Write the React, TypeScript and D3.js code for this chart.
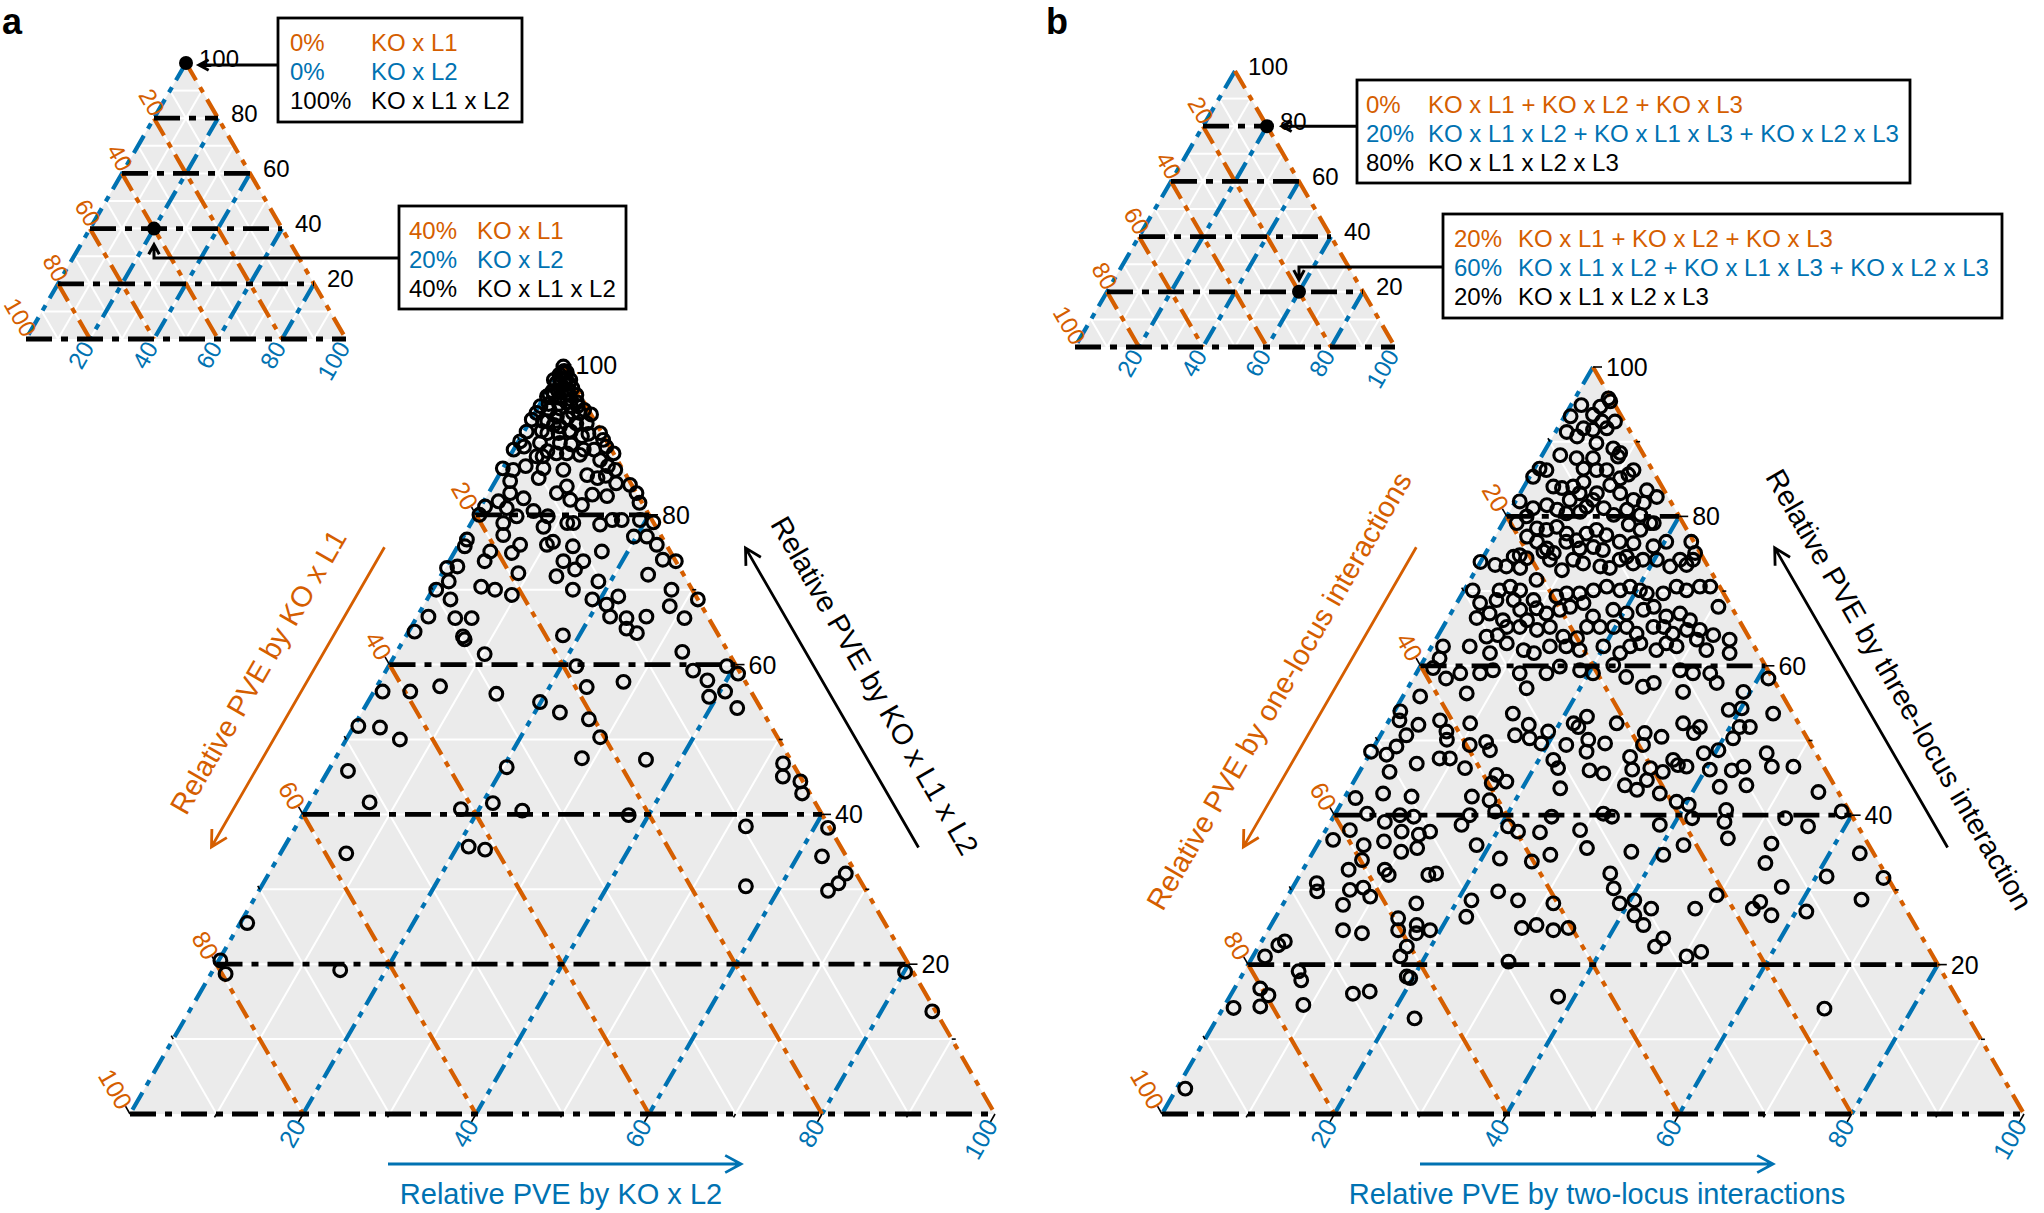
import * as d3 from "d3";

const ORANGE = "#D55E00";
const BLUE = "#0072B2";
const PANEL_BG = "#EBEBEB";
const FONT = "'Liberation Sans', Arial, Helvetica, sans-serif";

// axis values
const tickLabels = [20, 40, 60, 80, 100];
const isoLevels = [0, 20, 40, 60, 80];
const gridLevels = [10, 20, 30, 40, 50, 60, 70, 80, 90];
const tickMarks = [10, 20, 30, 40, 50, 60, 70, 80, 90, 100];

// axis titles: [left (orange), bottom (blue), right (black)]
const titlesA = ["Relative PVE by KO x L1", "Relative PVE by KO x L2", "Relative PVE by KO x L1 x L2"];
const titlesB = [
  "Relative PVE by one-locus interactions",
  "Relative PVE by two-locus interactions",
  "Relative PVE by three-locus interaction",
];

// legend boxes
const legendLabelsA = ["KO x L1", "KO x L2", "KO x L1 x L2"];
const legendLabelsB = [
  "KO x L1 + KO x L2 + KO x L3",
  "KO x L1 x L2 + KO x L1 x L3 + KO x L2 x L3",
  "KO x L1 x L2 x L3",
];
const legendValuesA = [
  [0, 0, 100],
  [40, 20, 40],
];
const legendValuesB = [
  [0, 20, 80],
  [20, 60, 20],
];

// panel a: [KO x L1, KO x L2, KO x L1 x L2] in %
const pveA: number[][] = [
  [0, 0.2, 99.8], [0, 1, 99], [1, 0.3, 98.7], [0.1, 1.9, 98], [1.9, 0.5, 97.6], [1, 1.6, 97.4],
  [0.4, 2.7, 96.9], [2.9, 0.6, 96.5], [1.4, 2.4, 96.2], [0.4, 3.6, 96], [3.9, 0.3, 95.8], [2.5, 1.9, 95.6],
  [1.3, 3.3, 95.4], [5.3, 0.2, 94.5], [4.5, 1.5, 94], [3.2, 2.6, 94.2], [1.8, 3.7, 94.5], [1.2, 5.2, 93.6],
  [0, 6.6, 93.4], [6.2, 0.2, 93.6], [4.1, 2.8, 93.1], [3, 4.1, 92.9], [5.5, 2, 92.5], [7.2, 0.1, 92.7],
  [2.3, 5.5, 92.2], [1.1, 6.7, 92.2], [4.4, 3.8, 91.8], [8.6, 0.3, 91.1], [6.3, 2.8, 90.9], [5, 4.1, 90.9],
  [3.5, 5.4, 91.1], [0.2, 8.9, 90.9], [0.3, 9.7, 90], [10, 0.2, 89.8], [7.8, 2.6, 89.6], [5.5, 4.9, 89.6],
  [4.3, 6.3, 89.4], [3.2, 8.1, 88.7], [2, 9.3, 88.7], [0.4, 10.5, 89.1], [0, 11.8, 88.2], [11.3, 0, 88.7],
  [9.9, 1, 89.1], [9.1, 3.1, 87.8], [6.6, 5.2, 88.2], [2, 10.7, 87.3], [13.8, 0, 86.2], [12.7, 1.3, 86],
  [11, 2.5, 86.5], [9.1, 4.7, 86.2], [6.9, 7.1, 86], [4.5, 10.2, 85.3], [3.5, 11.6, 84.9], [0.9, 13.1, 86],
  [13.8, 1.7, 84.5], [10.3, 4.8, 84.9], [7.6, 8.6, 83.8], [9.2, 7.9, 82.9], [8.1, 9.9, 82], [7.1, 11.6, 81.3],
  [5.2, 12.1, 82.7], [3.6, 13.9, 82.5], [0.2, 15.8, 84], [0, 17.1, 82.9], [0.3, 18.1, 81.6], [1.7, 14.1, 84.2],
  [13.4, 4.4, 82.2], [14.6, 2.5, 82.9], [16.5, 1.7, 81.8], [18.4, 0.5, 81.1], [19.6, 0.4, 80], [16, 3.1, 80.9],
  [15.4, 4.8, 79.8], [13.1, 6.4, 80.5], [11.8, 8.4, 79.8], [13, 8.6, 78.4], [10, 11.1, 78.9], [9.3, 11.8, 78.9],
  [6.3, 15, 78.7], [4.6, 16.1, 79.3], [3.5, 17.2, 79.3], [1.4, 19.3, 79.3], [0, 21, 79], [17.4, 3.7, 78.9],
  [18.2, 4.5, 77.3], [16.9, 7.1, 76], [18.4, 6.7, 74.9], [20.8, 4.1, 75.1], [22.1, 4.1, 73.8], [22.7, 0.6, 76.7],
  [23.4, 0.8, 75.8], [13.8, 10.2, 76], [12.9, 10.7, 76.4], [10.9, 13.3, 75.8], [7.9, 17, 75.1], [3.2, 19.7, 77.1],
  [1.7, 21.2, 77.1], [1.1, 22.9, 76], [1.4, 24.6, 74], [0, 26.2, 73.8], [13, 13.2, 73.8], [10.7, 15.5, 73.8],
  [14.8, 13.4, 71.8], [12.2, 15.1, 72.7], [19, 8.8, 72.2], [25.6, 1.3, 73.1], [26.9, 0.2, 72.9], [27.6, 1.3, 71.1],
  [29.6, 0.4, 70], [28.6, 2.7, 68.7], [24.2, 5.4, 70.4], [22.8, 7.2, 70], [21.2, 9.5, 69.3], [13.8, 16.2, 70],
  [10.3, 18.6, 71.1], [4.1, 23.9, 72], [2.4, 27.6, 70], [12.2, 19.1, 68.7], [10.9, 21.1, 68], [9, 21.9, 69.1],
  [3.7, 28.5, 67.8], [0, 31.3, 68.7], [32.3, 1.3, 66.4], [29.3, 4.5, 66.2], [27.4, 6.4, 66.2], [11.3, 22.3, 66.4],
  [9.5, 24.3, 66.2], [7.1, 26.5, 66.4], [2.8, 31, 66.2],
  [0.5, 0.5, 99], [1.5, 1, 97.5], [0.5, 2, 97.5], [2, 0, 98], [3, 1, 96], [2, 3, 95], [1, 4.5, 94.5],
  [3.5, 0.5, 96], [0.5, 5.5, 94], [5, 3, 92], [2.5, 7, 90.5], [6, 1.5, 92.5], [7.5, 4, 88.5], [4, 8, 88],
  [1.5, 12, 86.5], [0.2, 0.6, 99.2], [1.2, 0.6, 98.2], [0.6, 1.4, 98], [2.2, 1.2, 96.6], [1.2, 2.8, 96],
  [3, 2.2, 94.8], [2, 4.4, 93.6], [4.2, 1, 94.8], [0.8, 4.2, 95], [3.6, 5.2, 91.2], [6.8, 2, 91.2],
  [1.6, 7.6, 90.8], [5.4, 6.4, 88.2], [8.4, 3.8, 87.8], [2.4, 12.4, 85.2],
  [5.3, 33, 61.7], [1.1, 39.1, 59.8], [0.3, 40.9, 58.8], [5.3, 35.5, 59.2], [4.3, 37.8, 57.9], [5.2, 39.1, 55.7],
  [3, 40.6, 56.4], [2.7, 43.1, 54.2], [1.1, 52.1, 46.8], [2, 53, 45.1], [0.3, 55.3, 44.4], [0.9, 56.3, 42.8],
  [9.6, 52, 38.4], [0.2, 61.6, 38.2], [2.8, 62.8, 34.4], [1.2, 66.7, 32.1], [2.7, 66.5, 30.8], [4.4, 65.8, 29.8],
  [13.6, 56, 30.4], [0.9, 80.1, 19], [0.4, 85.9, 13.7], [24, 28.5, 47.5], [16.7, 36, 47.3], [22.4, 37.7, 39.9],
  [34.9, 0.7, 64.4], [29.6, 6.6, 63.7], [29.6, 7, 63.3], [28.3, 10.3, 61.4], [18, 18.1, 63.9], [10.2, 25, 64.8],
  [9.3, 26.5, 64.2], [18.5, 21.7, 59.8], [14.1, 28.2, 57.7], [18.7, 24.3, 57], [25.1, 19.9, 55], [23.5, 22.9, 53.6],
  [20.6, 26.7, 52.7], [20.5, 29.2, 50.3], [29.6, 14.3, 56.1], [35.6, 7.3, 57.1], [39.4, 4.2, 56.4], [42.6, 1, 56.4],
  [47.7, 0.5, 51.8], [45.3, 3.1, 51.6], [43.8, 6.2, 50], [33.3, 20.4, 46.3], [51.9, 2.3, 45.8], [51.5, 6.9, 41.6],
  [41.4, 17.9, 40.7], [37.3, 21.2, 41.5], [34.4, 25.1, 40.5], [57.6, 7.6, 34.8], [43, 21.3, 35.7], [41.3, 23.4, 35.3],
  [73.7, 0.8, 25.5], [79.3, 0.2, 20.5], [79.6, 1.7, 18.7], [66.1, 14.7, 19.2],
];

// panel b: [one-locus, two-locus, three-locus] in %
const pveB: number[][] = [
  [0.3, 3.9, 95.8], [0.3, 4.3, 95.4], [3.9, 1.2, 94.9], [1.8, 3.5, 94.7], [5.9, 0.7, 93.4], [3.2, 3.2, 93.6],
  [2.6, 4.7, 92.7], [1.1, 6.2, 92.7], [5.2, 3, 91.8], [4.2, 4.2, 91.6], [2.5, 5.7, 91.8], [7.4, 1.3, 91.3],
  [6.5, 2.8, 90.7], [4.7, 5.5, 89.8], [3.1, 7.8, 89.1], [2.6, 8.9, 88.5], [9.7, 2.1, 88.2], [8, 4.2, 87.8],
  [6.1, 6.1, 87.8], [3.1, 8.9, 88], [7.9, 5.7, 86.4], [6.5, 7.3, 86.2], [5.3, 8.5, 86.2], [2.2, 11.6, 86.2],
  [13, 0.6, 86.4], [12.3, 1.5, 86.2], [14.3, 0.4, 85.3], [12.6, 3.4, 84], [11.7, 4.5, 83.8], [10.3, 5.7, 84],
  [8.8, 6.6, 84.6], [8, 8.9, 83.1], [5.9, 9.9, 84.2], [4.3, 10.6, 85.1], [3.1, 11.3, 85.6], [10, 6.9, 83.1],
  [11.6, 6.2, 82.2], [8.9, 8.9, 82.2], [5.3, 11.6, 83.1], [2, 14.5, 83.5], [1.3, 16.1, 82.6], [4.2, 13.6, 82.2],
  [3.2, 15, 81.8], [17.5, 0.5, 82], [16.4, 2.5, 81.1], [14.6, 3.9, 81.5], [13.7, 5.4, 80.9], [12.9, 6.7, 80.4],
  [11.2, 8.2, 80.6], [10.1, 8.6, 81.3], [8.2, 10.7, 81.1], [7.5, 12.3, 80.2], [5.6, 13.5, 80.9], [4.4, 15.4, 80.2],
  [3.4, 17.5, 79.1], [19.3, 1.6, 79.1], [17.7, 2.3, 80], [17.3, 4.3, 78.4], [16.3, 5.5, 78.2], [14.9, 6.5, 78.6],
  [14.2, 8.1, 77.7], [13.5, 9.7, 76.8], [11.9, 10.4, 77.7], [10.5, 11.3, 78.2], [9.7, 12.8, 77.5], [6.4, 14.7, 78.9],
  [5.4, 16.4, 78.2], [3.8, 17.1, 79.1], [19, 3.7, 77.3], [18.2, 5.2, 76.6], [17.5, 6.8, 75.7], [17, 7.9, 75.1],
  [14.8, 8.6, 76.6], [13.7, 10.6, 75.7], [12, 12.1, 75.9], [11.1, 13.4, 75.5], [8.6, 14.8, 76.6], [7.1, 16.5, 76.4],
  [5, 19, 76], [3.2, 20.2, 76.6], [0.3, 23.1, 76.6], [0.6, 24.3, 75.1], [26.1, 0, 73.9], [24.6, 1.9, 73.5],
  [23.4, 3.3, 73.3], [21.9, 5, 73.1], [21.9, 3.5, 74.6], [21.1, 4.1, 74.8], [20.5, 5.1, 74.4], [18.1, 6.6, 75.3],
  [17.9, 7.9, 74.2], [17.2, 10, 72.8], [15.2, 10.6, 74.2], [14.3, 12, 73.7], [12.5, 14.2, 73.3], [11.5, 15.4, 73.1],
  [9.8, 16, 74.2], [8.8, 16.6, 74.6], [8.5, 17.8, 73.7], [7.1, 18.7, 74.2], [5.5, 20.3, 74.2], [4.4, 22.3, 73.3],
  [2.8, 23, 74.2], [2.4, 24.1, 73.5], [1.3, 24.5, 74.2], [20.8, 7.7, 71.5], [28.9, 1, 70.1], [25.8, 4.1, 70.1],
  [24.3, 5.1, 70.6], [23.4, 6.5, 70.1], [26.8, 4.4, 68.8], [24.8, 6.4, 68.8], [22.5, 8.7, 68.8], [19.6, 11.1, 69.3],
  [18.2, 12.1, 69.7], [16.7, 13.6, 69.7], [14.9, 15, 70.1], [13.1, 16.3, 70.6], [11.8, 18.1, 70.1], [10.4, 19, 70.6],
  [9.5, 20.4, 70.1], [8.9, 21.4, 69.7], [7, 23.3, 69.7], [5, 24.4, 70.6], [4.1, 25.8, 70.1], [2.3, 27.1, 70.6],
  [1.1, 28.3, 70.6], [28.9, 2.7, 68.4], [28.5, 4.5, 67], [30.3, 3.3, 66.4], [27.4, 6.5, 66.1], [24.7, 7.8, 67.5],
  [24.6, 9.3, 66.1], [22.7, 9.6, 67.7], [21.9, 11.1, 67], [20.1, 12.4, 67.5], [18.7, 13.4, 67.9], [16.9, 14.7, 68.4],
  [16.7, 16.7, 66.6], [13.9, 18.6, 67.5], [12.6, 20.4, 67], [10.4, 22.1, 67.5], [9, 23.1, 67.9], [8.2, 25.2, 66.6],
  [6.4, 26.6, 67], [5.7, 28.2, 66.1], [1.5, 30.6, 67.9], [30.4, 5.7, 63.9], [29, 6.9, 64.1], [27.4, 7.4, 65.2],
  [25.9, 8.9, 65.2], [24.1, 11.1, 64.8], [22.4, 12.4, 65.2], [21.5, 14.6, 63.9], [20, 16.3, 63.7], [18.1, 16.7, 65.2],
  [16.6, 18.2, 65.2], [15, 19.8, 65.2], [13.5, 21.3, 65.2], [12.8, 22.9, 64.3], [10.4, 24.4, 65.2], [9.2, 25.6, 65.2],
  [8.6, 27.1, 64.3], [6.7, 28.5, 64.8], [5.2, 30, 64.8], [4, 31.9, 64.1], [36.1, 1.3, 62.6], [37.3, 1.7, 61],
  [38.7, 1.6, 59.7], [37.9, 3.8, 58.3], [35.9, 5.1, 59], [33, 4.4, 62.6], [31.1, 7.2, 61.7], [28.5, 8.5, 63],
  [27, 10.9, 62.1], [26, 12.3, 61.7], [23.7, 13.7, 62.6], [21.8, 15.6, 62.6], [20.5, 17.4, 62.1], [17.5, 19.9, 62.6],
  [16, 22.3, 61.7], [14.4, 23, 62.6], [13, 24, 63], [11.6, 26.3, 62.1], [10, 27, 63], [9, 28.4, 62.6],
  [6.2, 30.3, 63.5], [5.8, 32.1, 62.1], [2.4, 34.1, 63.5], [3.3, 35, 61.7], [42.1, 2, 55.9], [36.5, 7.2, 56.3],
  [33.6, 7.4, 59], [31.9, 8.7, 59.4], [29, 12, 59], [29.2, 13.8, 57], [25.9, 15.1, 59], [23.9, 16.2, 59.9],
  [21.8, 18.8, 59.4], [20.5, 20.5, 59], [17.6, 22.3, 60.1], [16.9, 24.6, 58.5], [15.6, 27.2, 57.2], [14.1, 28.2, 57.7],
  [10.2, 30.4, 59.4], [8.9, 32.1, 59], [6.9, 34.1, 59], [6.8, 35.5, 57.7], [4.3, 39.2, 56.5], [0.5, 41.2, 58.3],
  [45.4, 0.7, 53.9], [46.1, 1.2, 52.7], [44.2, 3.7, 52.1], [41.4, 5.9, 52.7], [41.4, 7.4, 51.2], [41.9, 8, 50.1],
  [38.1, 9.6, 52.3], [39.6, 11, 49.4], [37.5, 12.7, 49.8], [37.6, 13.7, 48.7], [32.5, 13.9, 53.6], [33.7, 15.6, 50.7],
  [31.4, 16.5, 52.1], [32.2, 17.5, 50.3], [31.2, 19.2, 49.6], [29.6, 19.2, 51.2], [30.9, 21.7, 47.4], [30.9, 22.8, 46.3],
  [32, 24.4, 43.6], [26.1, 21.6, 52.3], [28.4, 22.2, 49.4], [25.8, 22.4, 51.8], [24.1, 22.7, 53.2], [25.5, 24.4, 50.1],
  [26.5, 25, 48.5], [27.4, 26.6, 46], [23.8, 26.6, 49.6], [26, 28.4, 45.6], [21.1, 26.6, 52.3], [21.8, 30.4, 47.8],
  [22.4, 31.5, 46.1], [24.3, 31.7, 44], [23.2, 33.4, 43.4], [21.4, 33.9, 44.7], [20.2, 33.5, 46.3], [16.8, 32.7, 50.5],
  [19, 35.2, 45.8], [20.8, 36.3, 42.9], [19.5, 31.1, 49.4], [18.5, 30.5, 51], [51.5, 0, 48.5], [49.9, 2, 48.1],
  [48.2, 2.6, 49.2], [46.3, 3, 50.7], [47, 6.1, 46.9], [50.7, 3.5, 45.8], [44, 8.4, 47.6], [42.8, 9.6, 47.6],
  [41.7, 12, 46.3], [38.5, 16.1, 45.4], [37.8, 17.7, 44.5], [39.6, 16.1, 44.3], [41, 17, 42], [42.8, 14.7, 42.5],
  [56.4, 1.3, 42.3], [52.9, 4.2, 42.9], [49.8, 7.7, 42.5], [56.1, 3.7, 40.2], [54.6, 6.3, 39.1], [52.4, 7.6, 40],
  [50.9, 9.3, 39.8], [59.2, 2.8, 38], [61.8, 1.5, 36.7], [58.6, 5.4, 36], [56, 7.5, 36.5], [53.3, 8.9, 37.8],
  [54.7, 10.2, 35.1], [51.5, 11.1, 37.4], [50, 12.2, 37.8], [52.6, 11.8, 35.6], [45.9, 15.4, 38.7], [44.3, 15.7, 40],
  [41.1, 18.4, 40.5], [40.6, 20.9, 38.5], [39.8, 22.4, 37.8], [37.3, 25, 37.7], [34.9, 25.3, 39.8], [32.5, 29.5, 38],
  [32.9, 31.5, 35.6], [28.7, 31.1, 40.2], [27.9, 32.3, 39.8], [22.9, 38.4, 38.7], [45.5, 18.5, 36], [43.7, 22.1, 34.2],
  [40.2, 26, 33.8], [37.6, 27.7, 34.7], [28, 36.9, 35.1], [24.5, 40.8, 34.7], [59.8, 6.2, 34], [62, 5.3, 32.7],
  [57.8, 9.5, 32.7], [57.7, 10.3, 32], [53.1, 14.9, 32], [52.1, 15.7, 32.2], [66.6, 2.5, 30.9], [67.1, 3.1, 29.8],
  [63.2, 6.8, 30], [61.5, 8.2, 30.3], [61.3, 9.6, 29.1], [65, 7, 28], [56.4, 15.4, 28.2], [59.5, 14.3, 26.2],
  [60.3, 15.1, 24.6], [57.8, 16.9, 25.3], [56.6, 18.8, 24.6], [58.4, 17.4, 24.2], [66.7, 8.7, 24.6], [64.7, 11.1, 24.2],
  [49.8, 21.6, 28.6], [51.5, 22.1, 26.4], [46.1, 24.1, 29.8], [44.4, 27, 28.6], [40.5, 31.3, 28.2], [45.8, 29.3, 24.9],
  [43.9, 30.8, 25.3], [42.3, 33.1, 24.6], [40.4, 34.7, 24.9], [31.9, 35.9, 32.2], [32.5, 37.3, 30.2], [32.8, 39, 28.2],
  [30.9, 40.5, 28.6], [29.5, 43, 27.5], [31.9, 41.5, 26.6], [31.5, 43.2, 25.3], [30.1, 46.4, 23.5], [31.6, 46, 22.4],
  [77.5, 1.4, 21.1], [75.2, 2.2, 22.6], [74.2, 2.7, 23.1], [74.6, 6.3, 19.1], [74.9, 7.2, 17.9], [80.2, 3, 16.8],
  [79.7, 4.4, 15.9], [81.4, 4.2, 14.4], [84.6, 1.2, 14.2], [76.3, 9.1, 14.6], [69.8, 14.1, 16.1], [67.7, 15.9, 16.4],
  [60.4, 17.2, 22.4], [61.8, 17.1, 21.1], [62.4, 19.2, 18.4], [62.1, 19.7, 18.2], [64.3, 22.9, 12.8], [49.6, 30, 20.4],
  [46.2, 38.1, 15.7], [95.6, 1, 3.4],
  [11.3, 32.2, 56.5], [7.2, 38.7, 54.1], [5.6, 40.1, 54.3], [2.3, 44.1, 53.6], [13.4, 34.3, 52.3], [11.7, 36.5, 51.8],
  [12.8, 36.2, 51], [7.1, 41.1, 51.8], [5.9, 42.3, 51.8], [8.6, 41.1, 50.3], [11.1, 40.2, 48.7], [13, 38.7, 48.3],
  [5.7, 46, 48.3], [6, 47.5, 46.5], [3.5, 50, 46.5], [17, 35.6, 47.4], [16.8, 36.5, 46.7], [15.9, 37.6, 46.5],
  [13.4, 40.5, 46.1], [10.9, 43.1, 46], [9.3, 44.2, 46.5], [13.4, 42.8, 43.8], [10.2, 45.8, 44], [2.3, 54.6, 43.1],
  [19.4, 38.8, 41.8], [18.2, 40.4, 41.4], [18.7, 41.7, 39.6], [14.2, 45.1, 40.7], [15.2, 45.7, 39.1], [7.9, 52.5, 39.6],
  [5.8, 55.7, 38.5], [0.9, 58.6, 40.5], [15.9, 47.2, 36.9], [11.2, 52.6, 36.2], [21.5, 42.5, 36], [13.2, 53.2, 33.6],
  [1.6, 63.5, 34.9], [7, 61.2, 31.8], [0.5, 67.9, 31.6], [12.9, 56.7, 30.4], [21, 49.7, 29.3], [4.5, 66.8, 28.7],
  [16.4, 55.2, 28.4], [17.7, 54.8, 27.5], [16, 57.4, 26.6], [11.7, 61.2, 27.1], [24.4, 48.1, 27.5], [28.6, 50.3, 21.1],
  [26.6, 51.7, 21.7], [16.1, 69.8, 14.1],
];

type Geo = { x0: number; y0: number; w: number; h: number };
type P = [number, number];

const bigA: Geo = { x0: 130, y0: 1114, w: 865, h: 749 };
const bigB: Geo = { x0: 1162, y0: 1114, w: 862, h: 747 };
const smallA: Geo = { x0: 26, y0: 339, w: 320, h: 276 };
const smallB: Geo = { x0: 1075, y0: 347, w: 320, h: 276 };

function ternaryScale(g: Geo) {
  const x = d3.scaleLinear().domain([0, 100]).range([g.x0, g.x0 + g.w]);
  const y = d3.scaleLinear().domain([0, 100]).range([g.y0, g.y0 - g.h]);
  return (a: number, b: number, c: number): P => {
    const s = a + b + c;
    const bb = (100 * b) / s;
    const cc = (100 * c) / s;
    return [x(bb + cc / 2), y(cc)];
  };
}

const lineGen = d3.line();

function isoline(pt: (a: number, b: number, c: number) => P, fam: string, v: number): P[] {
  if (fam === "c") return [pt(100 - v, 0, v), pt(0, 100 - v, v)];
  if (fam === "a") return [pt(v, 0, 100 - v), pt(v, 100 - v, 0)];
  return [pt(0, v, 100 - v), pt(100 - v, v, 0)];
}

const families = [
  { key: "b", color: BLUE, dash: "20 8 6 8", width: 4.2 },
  { key: "a", color: ORANGE, dash: "20 8 6 8", width: 4.2 },
  { key: "c", color: "#000", dash: "26 9 7 9", width: 4.8 },
];

function Ternary({ g, data, big, marks }: { g: Geo; data?: number[][]; big: boolean; marks?: number[][] }) {
  const pt = ternaryScale(g);
  const corners = [pt(100, 0, 0), pt(0, 100, 0), pt(0, 0, 100)];
  const c60 = 0.5;
  const s60 = Math.sqrt(3) / 2;
  const lab = big ? 8 : 5;
  return (
    <g>
      <polygon points={corners.map((p) => p.join(",")).join(" ")} fill={PANEL_BG} />
      {["a", "b", "c"].flatMap((f) =>
        gridLevels.map((v) => (
          <path key={`g${f}${v}`} d={lineGen(isoline(pt, f, v)) || ""} stroke="#fff" strokeWidth={2} fill="none" />
        ))
      )}
      {families.flatMap((f) =>
        isoLevels.map((v) => (
          <path
            key={`i${f.key}${v}`}
            d={lineGen(isoline(pt, f.key, v)) || ""}
            stroke={f.color}
            strokeWidth={f.width}
            strokeDasharray={f.dash}
            fill="none"
          />
        ))
      )}
      {big &&
        tickMarks.map((v) => {
          const len = v % 20 === 0 ? 9 : 4;
          const pc = pt(0, 100 - v, v);
          const pa = pt(v, 0, 100 - v);
          const pb = pt(100 - v, v, 0);
          return (
            <g key={`t${v}`} stroke="#000" strokeWidth={1.6}>
              <line x1={pc[0]} y1={pc[1]} x2={pc[0] + len} y2={pc[1]} />
              <line x1={pa[0]} y1={pa[1]} x2={pa[0] - len * c60} y2={pa[1] - len * s60} />
              <line x1={pb[0]} y1={pb[1]} x2={pb[0] - len * c60} y2={pb[1] + len * s60} />
            </g>
          );
        })}
      {tickLabels.map((v) => {
        const pc = pt(0, 100 - v, v);
        const pa = pt(v, 0, 100 - v);
        const pb = pt(100 - v, v, 0);
        return (
          <g key={`l${v}`} fontSize={big ? 25 : 24} fontFamily={FONT}>
            <text x={pc[0] + 13} y={pc[1] + (big ? 0 : -5)} dominantBaseline="central" fill="#000">
              {v}
            </text>
            <text
              transform={`translate(${pa[0] - lab * c60 + (big ? 0 : 7)},${pa[1] - lab * s60}) rotate(60)`}
              textAnchor="end"
              dominantBaseline="central"
              fill={ORANGE}
            >
              {v}
            </text>
            <text
              transform={`translate(${pb[0] - lab * c60},${pb[1] + lab * s60}) rotate(-60)`}
              textAnchor="end"
              dominantBaseline="central"
              fill={BLUE}
            >
              {v}
            </text>
          </g>
        );
      })}
      {data &&
        data.map((d, i) => {
          const p = pt(d[0], d[1], d[2]);
          return <circle key={`p${i}`} cx={p[0]} cy={p[1]} r={6.4} fill="none" stroke="#000" strokeWidth={3.1} />;
        })}
      {marks &&
        marks.map((d, i) => {
          const p = pt(d[0], d[1], d[2]);
          return <circle key={`m${i}`} cx={p[0]} cy={p[1]} r={7} fill="#000" />;
        })}
    </g>
  );
}

function chevron(tip: P, from: P, len: number) {
  const ang = Math.atan2(tip[1] - from[1], tip[0] - from[0]);
  const a1 = ang + Math.PI - 0.5;
  const a2 = ang + Math.PI + 0.5;
  return `M${tip[0] + len * Math.cos(a1)},${tip[1] + len * Math.sin(a1)}L${tip[0]},${tip[1]}L${
    tip[0] + len * Math.cos(a2)
  },${tip[1] + len * Math.sin(a2)}`;
}

function Arrow({ from, to, color }: { from: P; to: P; color: string }) {
  return (
    <path
      d={`M${from[0]},${from[1]}L${to[0]},${to[1]}${chevron(to, from, 18)}`}
      stroke={color}
      strokeWidth={2.8}
      fill="none"
    />
  );
}

function AxisTitles({ g, titles, along, off }: { g: Geo; titles: string[]; along: number[]; off: number[] }) {
  const pt = ternaryScale(g);
  const BL = pt(100, 0, 0);
  const BR = pt(0, 100, 0);
  const T = pt(0, 0, 100);
  const side = Math.hypot(T[0] - BL[0], T[1] - BL[1]);
  const uL: P = [(T[0] - BL[0]) / side, (T[1] - BL[1]) / side];
  const nL: P = [uL[1], -uL[0]];
  const uR: P = [(T[0] - BR[0]) / side, (T[1] - BR[1]) / side];
  const nR: P = [-uR[1], uR[0]];
  const at = (o: P, u: P, n: P, s: number, d: number): P => [o[0] + u[0] * s + n[0] * d, o[1] + u[1] * s + n[1] * d];
  const cL = at(BL, uL, nL, 445, 63);
  const cR = at(BR, uR, nR, 442, 67);
  const half = 173;
  const tL = at(BL, uL, nL, along[0], off[0]);
  const tR = at(BR, uR, nR, along[2], off[1]);
  return (
    <g fontFamily={FONT} fontSize={29}>
      <Arrow from={[cL[0] + uL[0] * half, cL[1] + uL[1] * half]} to={[cL[0] - uL[0] * half, cL[1] - uL[1] * half]} color={ORANGE} />
      <Arrow from={[cR[0] - uR[0] * half, cR[1] - uR[1] * half]} to={[cR[0] + uR[0] * half, cR[1] + uR[1] * half]} color="#000" />
      <Arrow from={[BL[0] + 258, BL[1] + 50]} to={[BL[0] + 611, BL[1] + 50]} color={BLUE} />
      <text transform={`translate(${tL[0]},${tL[1]}) rotate(-60)`} textAnchor="middle" dominantBaseline="central" fill={ORANGE}>
        {titles[0]}
      </text>
      <text x={BL[0] + along[1]} y={BL[1] + 80} textAnchor="middle" dominantBaseline="central" fill={BLUE}>
        {titles[1]}
      </text>
      <text transform={`translate(${tR[0]},${tR[1]}) rotate(60)`} textAnchor="middle" dominantBaseline="central" fill="#000">
        {titles[2]}
      </text>
    </g>
  );
}

type Box = { x: number; y: number; w: number; h: number; pctX: number; labX: number };

function LegendBox({ box, values, labels }: { box: Box; values: number[]; labels: string[] }) {
  const colors = [ORANGE, BLUE, "#000"];
  return (
    <g fontFamily={FONT} fontSize={24}>
      <rect x={box.x} y={box.y} width={box.w} height={box.h} fill="#fff" stroke="#000" strokeWidth={2.8} />
      {labels.map((l, i) => (
        <g key={i} fill={colors[i]}>
          <text x={box.x + box.pctX} y={box.y + 24 + i * 29} dominantBaseline="central">
            {`${values[i]}%`}
          </text>
          <text x={box.x + box.labX} y={box.y + 24 + i * 29} dominantBaseline="central">
            {l}
          </text>
        </g>
      ))}
    </g>
  );
}

function Callouts() {
  const pa = ternaryScale(smallA);
  const pb = ternaryScale(smallB);
  const a1 = pa(legendValuesA[0][0], legendValuesA[0][1], legendValuesA[0][2]);
  const a2 = pa(legendValuesA[1][0], legendValuesA[1][1], legendValuesA[1][2]);
  const b1 = pb(legendValuesB[0][0], legendValuesB[0][1], legendValuesB[0][2]);
  const b2 = pb(legendValuesB[1][0], legendValuesB[1][1], legendValuesB[1][2]);
  const boxA1: Box = { x: 278, y: 18, w: 244, h: 104, pctX: 12, labX: 93 };
  const boxA2: Box = { x: 399, y: 206, w: 227, h: 103, pctX: 10, labX: 78 };
  const boxB1: Box = { x: 1357, y: 80, w: 553, h: 103, pctX: 9, labX: 71 };
  const boxB2: Box = { x: 1443, y: 214, w: 559, h: 104, pctX: 11, labX: 75 };
  const sw = 3;
  const tipA1: P = [a1[0] + 13, a1[1] + 2];
  const tipA2: P = [a2[0], a2[1] + 16];
  const tipB1: P = [b1[0] + 15, b1[1]];
  const tipB2: P = [b2[0], b2[1] - 12];
  return (
    <g stroke="#000" strokeWidth={sw} fill="none">
      <path d={`M${boxA1.x},${tipA1[1]}L${tipA1[0]},${tipA1[1]}${chevron(tipA1, [boxA1.x, tipA1[1]], 11)}`} />
      <path d={`M${boxA2.x},258L${tipA2[0]},258L${tipA2[0]},${tipA2[1]}${chevron(tipA2, [tipA2[0], 258], 11)}`} />
      <path d={`M${boxB1.x},${tipB1[1]}L${tipB1[0]},${tipB1[1]}${chevron(tipB1, [boxB1.x, tipB1[1]], 11)}`} />
      <path d={`M${boxB2.x},267L${tipB2[0]},267L${tipB2[0]},${tipB2[1]}${chevron(tipB2, [tipB2[0], 267], 11)}`} />
      <g stroke="none">
        <LegendBox box={boxA1} values={legendValuesA[0]} labels={legendLabelsA} />
        <LegendBox box={boxA2} values={legendValuesA[1]} labels={legendLabelsA} />
        <LegendBox box={boxB1} values={legendValuesB[0]} labels={legendLabelsB} />
        <LegendBox box={boxB2} values={legendValuesB[1]} labels={legendLabelsB} />
      </g>
    </g>
  );
}

export default function App() {
  return (
    <svg
      width={2044}
      height={1213}
      viewBox="0 0 2044 1213"
      style={{ position: "absolute", left: 0, top: 0, background: "#fff", display: "block" }}
    >
      <rect width={2044} height={1213} fill="#fff" />
      <text x={2} y={34} fontFamily={FONT} fontWeight="bold" fontSize={36}>
        a
      </text>
      <text x={1046} y={34} fontFamily={FONT} fontWeight="bold" fontSize={36}>
        b
      </text>
      <Ternary g={smallA} big={false} marks={legendValuesA} />
      <Ternary g={smallB} big={false} marks={legendValuesB} />
      <Callouts />
      <Ternary g={bigA} big={true} data={pveA} />
      <Ternary g={bigB} big={true} data={pveB} />
      <AxisTitles g={bigA} titles={titlesA} along={[447, 431, 431]} off={[110, 110]} />
      <AxisTitles g={bigB} titles={titlesB} along={[425, 435, 430]} off={[110, 104]} />
    </svg>
  );
}
